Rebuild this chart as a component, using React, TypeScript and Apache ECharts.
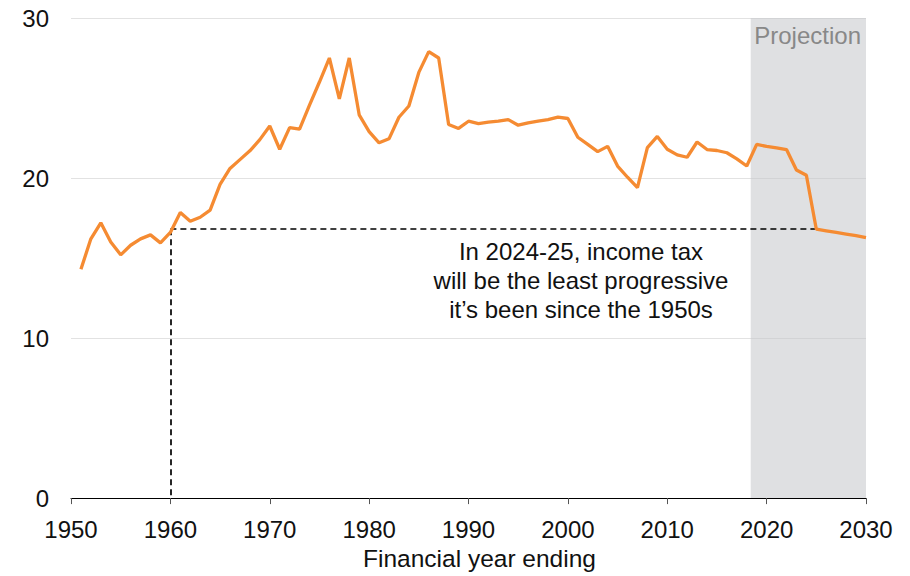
import React, { useEffect, useRef } from "react";
import * as echarts from "echarts";

const years: number[] = [
  1951, 1952, 1953, 1954, 1955, 1956, 1957, 1958, 1959, 1960,
  1961, 1962, 1963, 1964, 1965, 1966, 1967, 1968, 1969, 1970,
  1971, 1972, 1973, 1974, 1975, 1976, 1977, 1978, 1979, 1980,
  1981, 1982, 1983, 1984, 1985, 1986, 1987, 1988, 1989, 1990,
  1991, 1992, 1993, 1994, 1995, 1996, 1997, 1998, 1999, 2000,
  2001, 2002, 2003, 2004, 2005, 2006, 2007, 2008, 2009, 2010,
  2011, 2012, 2013, 2014, 2015, 2016, 2017, 2018, 2019, 2020,
  2021, 2022, 2023, 2024, 2025, 2026, 2027, 2028, 2029, 2030,
];

const values: number[] = [
  14.3, 16.2, 17.2, 16.0, 15.2, 15.8, 16.2, 16.45, 15.95, 16.6,
  17.85, 17.3, 17.55, 18.0, 19.6, 20.6, 21.15, 21.7, 22.4, 23.25,
  21.8, 23.15, 23.05, 24.55, 26.0, 27.5, 24.95, 27.5, 23.95, 22.9,
  22.2, 22.45, 23.8, 24.5, 26.6, 27.9, 27.5, 23.35, 23.1, 23.55,
  23.4, 23.5, 23.55, 23.65, 23.3, 23.45, 23.55, 23.65, 23.8, 23.72,
  22.55, 22.1, 21.65, 21.98, 20.75, 20.05, 19.4, 21.9, 22.6, 21.8,
  21.45, 21.3, 22.25, 21.78, 21.72, 21.58, 21.2, 20.75, 22.1, 21.98,
  21.88, 21.78, 20.5, 20.17, 16.8, 16.7, 16.6, 16.5, 16.4, 16.28,
];

const xTicks = { min: 1950, max: 2030, interval: 10 };
const yTicks = { min: 0, max: 30, interval: 10 };

const projectionStart = 2018.4;
const projectionLabel = "Projection";
const refYear = 1960;
const refYearEnd = 2025;
const refLevel = 16.8;
const annotationLines = [
  "In 2024-25, income tax",
  "will be the least progressive",
  "it\u2019s been since the 1950s",
];
const xAxisName = "Financial year ending";

const FONT = "'Liberation Sans', Arial, Helvetica, sans-serif";

export default function App() {
  const ref = useRef<HTMLDivElement>(null);

  useEffect(() => {
    document.body.style.margin = "0";
    if (!ref.current) return;
    const chart = echarts.init(ref.current, undefined, { renderer: "svg" });
    const seriesData = years.map((y, i) => [y, values[i]]);

    chart.setOption({
      animation: false,
      backgroundColor: "#ffffff",
      textStyle: { fontFamily: FONT },
      grid: { left: 71, right: 44, top: 18, bottom: 71, containLabel: false },
      xAxis: {
        type: "value",
        min: xTicks.min,
        max: xTicks.max,
        interval: xTicks.interval,
        name: xAxisName,
        nameLocation: "middle",
        nameGap: 44,
        nameTextStyle: {
          fontSize: 24.5,
          color: "#111",
          fontFamily: FONT,
          padding: [0, 0, 0, 22],
        },
        axisLine: { show: true, lineStyle: { color: "#000", width: 1 } },
        axisTick: { show: true, length: 6, lineStyle: { color: "#555", width: 1 } },
        axisLabel: {
          fontSize: 24,
          color: "#111",
          margin: 19,
          fontFamily: FONT,
          formatter: (v: number) => String(v),
        },
        splitLine: { show: false },
      },
      yAxis: {
        type: "value",
        min: yTicks.min,
        max: yTicks.max,
        interval: yTicks.interval,
        axisLine: { show: false },
        axisTick: { show: false },
        axisLabel: { fontSize: 24, color: "#111", margin: 22, fontFamily: FONT },
        splitLine: { show: true, lineStyle: { color: "#e2e2e2", width: 1 } },
      },
      series: [
        {
          type: "line",
          data: [],
          silent: true,
          markArea: {
            silent: true,
            itemStyle: { color: "rgba(196,198,203,0.55)" },
            label: {
              show: true,
              position: "insideTopRight",
              distance: 5,
              color: "#888888",
              fontSize: 24,
              fontFamily: FONT,
            },
            data: [
              [
                { xAxis: projectionStart, name: projectionLabel },
                { xAxis: xTicks.max },
              ],
            ],
          },
        },
        {
          type: "line",
          data: seriesData,
          showSymbol: false,
          symbol: "none",
          lineStyle: { color: "#F58B32", width: 3.3 },
          z: 5,
          markLine: {
            silent: true,
            symbol: "none",
            label: { show: false },
            lineStyle: { color: "#000", type: [6, 4], width: 1.7 },
            data: [
              [{ coord: [refYear, refLevel] }, { coord: [refYearEnd, refLevel] }],
              [{ coord: [refYear, refLevel] }, { coord: [refYear, 0] }],
            ],
          },
        },
      ],
      graphic: [
        {
          type: "text",
          x: 581,
          y: 237,
          style: {
            text: annotationLines.join("\n"),
            align: "center",
            verticalAlign: "top",
            fontSize: 24,
            fontFamily: FONT,
            lineHeight: 29,
            fill: "#111",
          },
        },
      ],
    });

    return () => {
      chart.dispose();
    };
  }, []);

  return <div ref={ref} style={{ width: 910, height: 576 }} />;
}
